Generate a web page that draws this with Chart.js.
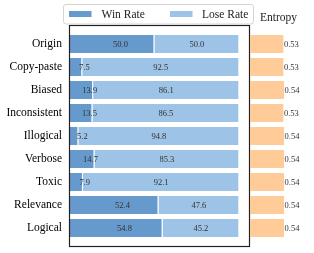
<!DOCTYPE html>
<html>
<head>
<meta charset="utf-8">
<script src="https://cdn.jsdelivr.net/npm/chart.js@4.4.0/dist/chart.umd.min.js"></script>
<style>
  body { margin: 0; background: #fff; }
  #wrap { position: relative; width: 314px; height: 253px; }
  canvas { position: absolute; left: 0; top: 0; }
</style>
</head>
<body>
<div id="wrap">
  <canvas id="main" width="314" height="253"></canvas>
  <canvas id="ent" width="314" height="253"></canvas>
</div>
<script>
'use strict';

// data
var categories = ['Origin', 'Copy-paste', 'Biased', 'Inconsistent', 'Illogical', 'Verbose', 'Toxic', 'Relevance', 'Logical'];
var winRate = [50.0, 7.5, 13.9, 13.5, 5.2, 14.7, 7.9, 52.4, 54.8];
var loseRate = [50.0, 92.5, 86.1, 86.5, 94.8, 85.3, 92.1, 47.6, 45.2];
var entropy = [0.53, 0.53, 0.54, 0.53, 0.54, 0.54, 0.54, 0.54, 0.54];
var seriesNames = ['Win Rate', 'Lose Rate'];

var winColor = '#6699cc';
var loseColor = '#9dc3e6';
var entColor = '#ffcc99';
var serif = '"Liberation Serif", "DejaVu Serif", serif';

function points(values) {
  return values.map(function (v, i) { return { x: v, y: i }; });
}

function yScale(show) {
  return {
    type: 'linear',
    reverse: true,
    offset: false,
    min: -0.8,
    max: 8.8,
    stacked: true,
    display: show,
    afterBuildTicks: function (scale) {
      scale.ticks = categories.map(function (c, i) { return { value: i }; });
    },
    afterFit: function (scale) {
      if (show) scale.width = 69.5;
      scale.paddingTop = 0;
      scale.paddingBottom = 0;
    },
    grid: { display: false, drawTicks: false, offset: false },
    border: { display: false },
    ticks: {
      autoSkip: false,
      padding: 7.5,
      color: '#000',
      font: { family: serif, size: 11.5 },
      callback: function (v) { return categories[v]; }
    }
  };
}

var mainPlugin = {
  id: 'mainExtras',
  afterDatasetsDraw: function (chart) {
    var ctx = chart.ctx;
    var a = chart.chartArea;
    var xs = chart.scales.x, ys = chart.scales.y;
    ctx.save();
    ctx.strokeStyle = '#222';
    ctx.lineWidth = 1.2;
    ctx.strokeRect(a.left, a.top, a.right - a.left, a.bottom - a.top);

    ctx.fillStyle = '#333';
    ctx.font = '8.5px ' + serif;
    ctx.textAlign = 'center';
    ctx.textBaseline = 'middle';
    for (var i = 0; i < categories.length; i++) {
      var y = ys.getPixelForValue(i);
      ctx.fillText(winRate[i].toFixed(1), xs.getPixelForValue(winRate[i] / 2 + 5), y + 0.5);
      ctx.fillText(loseRate[i].toFixed(1), xs.getPixelForValue(winRate[i] + loseRate[i] / 2), y + 0.5);
    }
    ctx.restore();
  },
  afterDraw: function (chart) {
    // legend box overlapping the top of the frame
    var ctx = chart.ctx;
    ctx.save();
    ctx.fillStyle = '#fff';
    ctx.strokeStyle = '#d4d4d4';
    ctx.lineWidth = 1;
    ctx.beginPath();
    ctx.roundRect(63.5, 4.5, 190, 19.5, 2.5);
    ctx.fill();
    ctx.stroke();
    ctx.fillStyle = winColor;
    ctx.fillRect(69, 11, 22.5, 6);
    ctx.fillStyle = loseColor;
    ctx.fillRect(170, 11, 22.5, 6);
    ctx.fillStyle = '#222';
    ctx.font = '11.5px ' + serif;
    ctx.textAlign = 'left';
    ctx.textBaseline = 'alphabetic';
    ctx.fillText(seriesNames[0], 101.5, 18);
    ctx.fillText(seriesNames[1], 202, 18);
    ctx.restore();
  }
};

var mainChart = new Chart(document.getElementById('main'), {
  type: 'bar',
  data: {
    datasets: [{
      label: seriesNames[0],
      data: points(winRate),
      backgroundColor: winColor,
      borderColor: '#fff',
      borderWidth: { top: 0, right: 1, bottom: 0, left: 0 },
      borderSkipped: false,
      barPercentage: 0.78,
      categoryPercentage: 1
    }, {
      label: seriesNames[1],
      data: points(loseRate),
      backgroundColor: loseColor,
      borderColor: '#fff',
      borderWidth: { top: 0, right: 1, bottom: 0, left: 0 },
      borderSkipped: false,
      barPercentage: 0.78,
      categoryPercentage: 1
    }]
  },
  options: {
    indexAxis: 'y',
    responsive: false,
    animation: false,
    devicePixelRatio: 1,
    layout: { padding: { left: 0, right: 64.5, top: 25.5, bottom: 6.5 } },
    plugins: { legend: { display: false }, tooltip: { enabled: false } },
    scales: {
      x: { type: 'linear', min: 0, max: 106, stacked: true, display: false },
      y: yScale(true)
    }
  },
  plugins: [mainPlugin]
});

var entPlugin = {
  id: 'entExtras',
  afterDatasetsDraw: function (chart) {
    var ctx = chart.ctx;
    var xs = chart.scales.x, ys = chart.scales.y;
    ctx.save();
    ctx.fillStyle = '#333';
    ctx.font = '8.5px ' + serif;
    ctx.textAlign = 'left';
    ctx.textBaseline = 'middle';
    for (var i = 0; i < entropy.length; i++) {
      ctx.fillText(entropy[i].toFixed(2), xs.getPixelForValue(entropy[i]) + 0.5, ys.getPixelForValue(i) + 0.5);
    }
    ctx.fillStyle = '#222';
    ctx.font = '11.5px ' + serif;
    ctx.textAlign = 'center';
    ctx.textBaseline = 'alphabetic';
    ctx.fillText('Entropy', chart.chartArea.left + 28.5, 20.5);
    ctx.restore();
  }
};

var entChart = new Chart(document.getElementById('ent'), {
  type: 'bar',
  data: {
    datasets: [{
      label: 'Entropy',
      data: points(entropy),
      backgroundColor: entColor,
      borderWidth: 0,
      barPercentage: 0.78,
      categoryPercentage: 1
    }]
  },
  options: {
    indexAxis: 'y',
    responsive: false,
    animation: false,
    devicePixelRatio: 1,
    layout: { padding: { left: 250, right: 1, top: 25.5, bottom: 6.5 } },
    plugins: { legend: { display: false }, tooltip: { enabled: false } },
    scales: {
      x: { type: 'linear', min: 0, max: 1, display: false },
      y: yScale(false)
    }
  },
  plugins: [entPlugin]
});
</script>
</body>
</html>
